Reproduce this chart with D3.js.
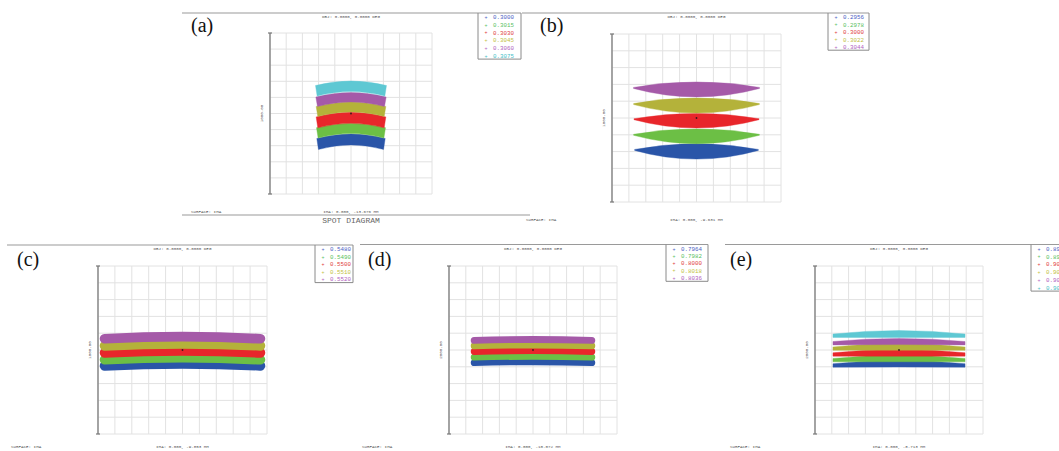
<!DOCTYPE html>
<html>
<head>
<meta charset="utf-8">
<script src="https://cdn.jsdelivr.net/npm/d3@7/dist/d3.min.js"></script>
<style>
  body { margin: 0; background: #fff; }
  svg { display: block; }
  .mono { font-family: "Liberation Mono", "DejaVu Sans Mono", monospace; }
</style>
</head>
<body>
<svg id="chart"></svg>
<script>
// band colours, wavelength 1..6
var bandColors = ['#2a55a8', '#6cbf45', '#e8262b', '#b4b23a', '#a55aa8', '#5ec8d3'];
var legendColors = ['#4a5cc4', '#58c060', '#e03a3a', '#c2c040', '#b060c0', '#44c0c8'];

// wavelengths (um) shown in each legend
var wavesA = ['0.3000', '0.3015', '0.3030', '0.3045', '0.3060', '0.3075'];
var wavesB = ['0.2956', '0.2978', '0.3000', '0.3022', '0.3044'];
var wavesC = ['0.5480', '0.5490', '0.5500', '0.5510', '0.5520'];
var wavesD = ['0.7964', '0.7982', '0.8000', '0.8018', '0.8036'];
var wavesE = ['0.8970', '0.8985', '0.9000', '0.9015', '0.9030', '0.9045'];

// spot band centre (um, y up), thickness (um), half width (um)
var centreA = [-161, -92, -27, 41, 101, 169];
var thickA  = [68, 64, 68, 62, 58, 66];
var widthA  = [211, 213, 215, 215, 217, 219];

var centreB = [-199, -109, -16, 74, 170];
var thickB  = [91, 88, 87, 89, 89];
var widthB  = [366, 372, 370, 372, 373];

var centreC = [-82, -46, -5, 37, 79];
var thickC  = [58, 58, 58, 58, 58];
var widthC  = [461, 461, 461, 461, 461];

var centreD = [-140, -75, -8, 60, 125];
var thickD  = [82, 82, 82, 82, 82];
var widthD  = [700, 700, 700, 700, 700];

var centreE = [-164, -101, -33, 36, 101, 190];
var thickE  = [78, 78, 80, 80, 74, 84];
var widthE  = [786, 786, 786, 786, 786, 786];

// field size (um) and image position text
var fieldSizes = [1000, 1000, 1000, 2000, 2000];
var imaTexts = ['IMA: 0.000, -13.676 MM', 'IMA: 0.000, -9.631 MM', 'IMA: 0.000, -9.853 MM',
                'IMA: 0.000, -10.072 MM', 'IMA: 0.000, -8.713 MM'];

var width = 1059, height = 451;
var svg = d3.select('#chart').attr('width', width).attr('height', height);

var panels = [
    { label: '(a)', waves: wavesA, centre: centreA, thick: thickA, half: widthA,
      sag: 28, endThick: null, slant: 10, cap: 'flat',
      grid: [270, 432, 33, 194], line: [182, 521, 13], legend: [478, 521, 13, 7.7],
      labelPos: [191, 32], footY: 212, surfX: 191, bottomLine: [182, 530, 215] },
    { label: '(b)', waves: wavesB, centre: centreB, thick: thickB, half: widthB,
      sag: -9, endThick: 6, slant: 0, cap: 'flat',
      grid: [612, 781, 34, 202], line: [522, 869, 13], legend: [828, 869, 13, 7.4],
      labelPos: [540, 32], footY: 220, surfX: 526 },
    { label: '(c)', waves: wavesC, centre: centreC, thick: thickC, half: widthC,
      sag: 12, cap: 'round',
      grid: [98, 267, 266, 434], line: [7, 353, 245], legend: [315, 353, 245, 7.5],
      labelPos: [17, 266], footY: 446.5, surfX: 11 },
    { label: '(d)', waves: wavesD, centre: centreD, thick: thickD, half: widthD,
      sag: 10, cap: 'round',
      grid: [449, 617, 266, 434], line: [360, 708, 244.5], legend: [666, 708, 244.5, 7.3],
      labelPos: [368, 266], footY: 446.5, surfX: 362 },
    { label: '(e)', waves: wavesE, centre: centreE, thick: thickE, half: widthE,
      sag: 20, endThick: 40, slant: 0, cap: 'flat',
      grid: [815, 983, 266, 434], line: [725, 1059, 244.5], legend: [1031, 1075, 244.5, 7.8],
      labelPos: [730, 266], footY: 446.5, surfX: 730 }
];

panels.forEach(function (p, i) {
    drawPanel(p, fieldSizes[i], imaTexts[i]);
});

function drawPanel(p, field, imaText) {
    var g = svg.append('g');
    var half = field / 2;
    var x = d3.scaleLinear().domain([-half, half]).range([p.grid[0], p.grid[1]]);
    var y = d3.scaleLinear().domain([-half, half]).range([p.grid[3], p.grid[2]]);
    var cx = (p.grid[0] + p.grid[1]) / 2, cy = (p.grid[2] + p.grid[3]) / 2;

    // header rule
    g.append('line')
        .attr('x1', p.line[0]).attr('x2', p.line[1])
        .attr('y1', p.line[2]).attr('y2', p.line[2])
        .attr('stroke', '#9a9a9a').attr('stroke-width', 1.2);

    if (p.bottomLine) {
        g.append('line')
            .attr('x1', p.bottomLine[0]).attr('x2', p.bottomLine[1])
            .attr('y1', p.bottomLine[2]).attr('y2', p.bottomLine[2])
            .attr('stroke', '#9a9a9a').attr('stroke-width', 1.2);
        g.append('text').attr('class', 'mono')
            .attr('x', cx).attr('y', p.bottomLine[2] + 8)
            .attr('text-anchor', 'middle')
            .attr('font-size', 8).attr('fill', '#666')
            .text('SPOT DIAGRAM');
    }

    // grid
    var ticks = d3.range(-half, half + 1, field / 10);
    g.selectAll('.vg').data(ticks).enter().append('line')
        .attr('x1', function (d) { return x(d); }).attr('x2', function (d) { return x(d); })
        .attr('y1', y(half)).attr('y2', y(-half))
        .attr('stroke', '#e2e2e2').attr('stroke-width', 1);
    g.selectAll('.hg').data(ticks).enter().append('line')
        .attr('y1', function (d) { return y(d); }).attr('y2', function (d) { return y(d); })
        .attr('x1', x(-half)).attr('x2', x(half))
        .attr('stroke', '#e2e2e2').attr('stroke-width', 1);

    // scale bar on left
    g.append('line')
        .attr('x1', x(-half)).attr('x2', x(-half))
        .attr('y1', y(half)).attr('y2', y(-half))
        .attr('stroke', '#7a7a7a').attr('stroke-width', 1.3);
    [half, -half].forEach(function (v) {
        g.append('line')
            .attr('x1', x(-half) - 2).attr('x2', x(-half) + 2)
            .attr('y1', y(v)).attr('y2', y(v))
            .attr('stroke', '#7a7a7a').attr('stroke-width', 1.2);
    });
    g.append('text').attr('class', 'mono')
        .attr('transform', 'translate(' + (x(-half) - 8) + ',' + cy + ') rotate(-90)')
        .attr('text-anchor', 'middle').attr('dy', '0.35em')
        .attr('font-size', 4.2).attr('fill', '#555')
        .text(d3.format('.2f')(field));

    // spots
    var pxPerUnit = Math.abs(y(0) - y(1));
    p.centre.forEach(function (c, k) {
        var col = bandColors[k];
        if (p.cap === 'round') {
            var q = d3.path();
            q.moveTo(x(-p.half[k]), y(c - p.sag));
            q.quadraticCurveTo(x(0), y(c + p.sag), x(p.half[k]), y(c - p.sag));
            g.append('path')
                .attr('d', q.toString())
                .attr('fill', 'none')
                .attr('stroke', col)
                .attr('stroke-width', p.thick[k] * pxPerUnit)
                .attr('stroke-linecap', 'round');
        } else {
            g.append('path')
                .attr('d', bandPath(x, y, c, p.half[k], p.thick[k], p.sag,
                    p.endThick == null ? p.thick[k] : p.endThick, p.slant))
                .attr('fill', col)
                .attr('stroke', col).attr('stroke-width', 0.4);
        }
    });

    // chief ray
    g.append('circle')
        .attr('cx', x(0)).attr('cy', y(0)).attr('r', 0.9)
        .attr('fill', '#3a1a1a');

    // legend
    var L = p.legend, rows = p.waves.length;
    var bottom = L[2] + 4.3 + (rows - 1) * L[3] + 3.3;
    g.append('path')
        .attr('d', 'M' + L[0] + ',' + L[2] + 'V' + bottom + 'H' + L[1] + 'V' + L[2])
        .attr('fill', 'none').attr('stroke', '#8a8a8a').attr('stroke-width', 1);
    p.waves.forEach(function (w, k) {
        var ry = L[2] + 4.3 + k * L[3];
        g.append('text').attr('class', 'mono')
            .attr('x', L[0] + 8).attr('y', ry).attr('dy', '0.35em')
            .attr('text-anchor', 'middle')
            .attr('font-size', 5).attr('fill', legendColors[k])
            .text('+');
        g.append('text').attr('class', 'mono')
            .attr('x', L[0] + 15).attr('y', ry).attr('dy', '0.35em')
            .attr('font-size', 5.8).attr('fill', legendColors[k])
            .text(w);
    });

    // header / footer text
    g.append('text').attr('class', 'mono')
        .attr('x', cx).attr('y', p.line[2] + 4).attr('dy', '0.35em')
        .attr('text-anchor', 'middle').attr('font-size', 4.2).attr('fill', '#555')
        .text('OBJ: 0.0000, 0.0000 DEG');
    g.append('text').attr('class', 'mono')
        .attr('x', cx).attr('y', p.footY).attr('dy', '0.35em')
        .attr('text-anchor', 'middle').attr('font-size', 4.2).attr('fill', '#555')
        .text(imaText);
    g.append('text').attr('class', 'mono')
        .attr('x', p.surfX).attr('y', p.footY).attr('dy', '0.35em')
        .attr('font-size', 4.2).attr('fill', '#555')
        .text('SURFACE: IMA');

    g.append('text')
        .attr('x', p.labelPos[0]).attr('y', p.labelPos[1])
        .style('font-family', '"Liberation Serif", "DejaVu Serif", serif')
        .attr('font-size', 20).attr('fill', '#111')
        .text(p.label);
}

function bandPath(x, y, c, hw, t, sag, te, slant) {
    var topC = c + t / 2, topE = c - sag + te / 2;
    var botC = c - t / 2, botE = c - sag - te / 2;
    var q = d3.path();
    q.moveTo(x(-hw), y(topE));
    q.quadraticCurveTo(x(0), y(2 * topC - topE), x(hw), y(topE));
    q.lineTo(x(hw - slant), y(botE));
    q.quadraticCurveTo(x(0), y(2 * botC - botE), x(-(hw - slant)), y(botE));
    q.closePath();
    return q.toString();
}
</script>
</body>
</html>
